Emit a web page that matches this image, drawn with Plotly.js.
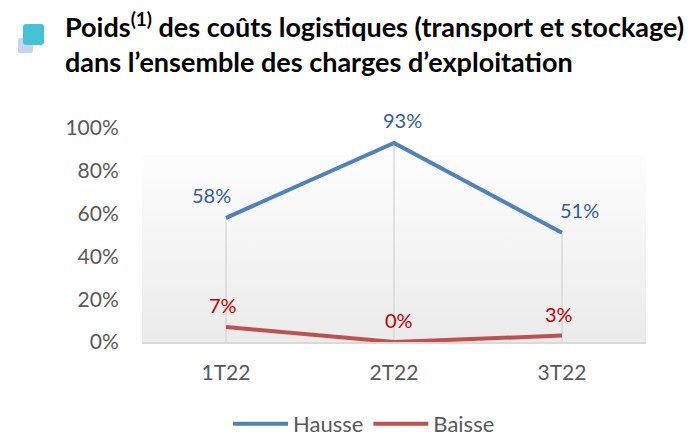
<!DOCTYPE html>
<html><head><meta charset="utf-8">
<script src="https://cdn.plot.ly/plotly-3.0.1.min.js"></script>
<style>html,body{margin:0;padding:0;background:#fff}#chart{width:698px;height:432px}</style>
</head><body><div id="chart"></div>
<script>
var categories = ["1T22", "2T22", "3T22"];
var hausse = [0.58, 0.93, 0.51];
var baisse = [0.07, 0.00, 0.03];
var seriesNames = ["Hausse", "Baisse"];
var yTicks = [0, 0.2, 0.4, 0.6, 0.8, 1.0];
var yTickLabels = ["0%", "20%", "40%", "60%", "80%", "100%"];
var titleLines = ["Poids<sup>(1)</sup> des coûts logistiques (transport et stockage)",
                  "dans l’ensemble des charges d’exploitation"];

var FONT = "Lato, 'Open Sans', sans-serif";
var pct = function(v){ return Math.round(v*100) + "%"; };
var PH = 214; // plot height in px
var py = function(pix){ return (342 - pix) / PH; };
var px = function(pix){ return (pix - 142) / 504; };

// drop lines from the highest series to the axis
var dropX = [], dropY = [];
categories.forEach(function(c, i){
  dropX.push(c, c, null);
  dropY.push(0, Math.max(hausse[i], baisse[i]), null);
});

var gradSvg = '<svg xmlns="http://www.w3.org/2000/svg" width="10" height="100" preserveAspectRatio="none">' +
  '<defs><linearGradient id="g" x1="0" y1="0" x2="0" y2="1"><stop offset="0" stop-color="#fdfdfd"/><stop offset="1" stop-color="#ebebeb"/></linearGradient></defs>' +
  '<rect width="10" height="100" fill="url(#g)"/></svg>';
var gradUri = "data:image/svg+xml;base64," + btoa(gradSvg);

var traces = [
  {x: dropX, y: dropY, mode: "lines", line: {color: "#d9d9d9", width: 1.5}, showlegend: false, hoverinfo: "skip"},
  {x: categories, y: hausse, name: seriesNames[0], mode: "lines",
   line: {color: "#4f81bd", width: 4}},
  {x: categories, y: baisse, name: seriesNames[1], mode: "lines",
   line: {color: "#c0504d", width: 4}}
];

// data labels placed from the data arrays
var hShift = [-15, 8, 17], bShift = [-3, 5, -3];
var labelAnns = [];
categories.forEach(function(c, i){
  labelAnns.push({x: c, y: hausse[i], xref: "x", yref: "y", text: pct(hausse[i]), showarrow: false,
    xanchor: "center", yanchor: "middle", xshift: hShift[i], yshift: 23,
    font: {family: FONT, size: 20, color: "#2f5f98"}});
  labelAnns.push({x: c, y: baisse[i], xref: "x", yref: "y", text: pct(baisse[i]), showarrow: false,
    xanchor: "center", yanchor: "middle", xshift: bShift[i], yshift: 22,
    font: {family: FONT, size: 20, color: "#c00000"}});
});

var layout = {
  width: 698, height: 432,
  margin: {l: 142, r: 52, t: 128, b: 90, autoexpand: false},
  paper_bgcolor: "#ffffff", plot_bgcolor: "#ffffff",
  font: {family: FONT, color: "#595959", size: 20},
  annotations: [
    {text: "<b>" + titleLines[0] + "</b>", xref: "paper", yref: "paper", x: px(63), y: py(25),
     xanchor: "left", yanchor: "middle", showarrow: false, font: {family: FONT, size: 27, color: "#000000"}},
    {text: "<b>" + titleLines[1] + "</b>", xref: "paper", yref: "paper", x: px(63), y: py(61),
     xanchor: "left", yanchor: "middle", showarrow: false, font: {family: FONT, size: 27, color: "#000000"}}
  ].concat(labelAnns),
  xaxis: {
    type: "category", range: [-0.5, 2.5], showgrid: false, zeroline: false,
    showline: true, linecolor: "#d9d9d9", linewidth: 2,
    ticks: "outside", ticklen: 11, tickcolor: "rgba(0,0,0,0)",
    tickfont: {family: FONT, size: 21, color: "#595959"}, fixedrange: true
  },
  yaxis: {
    range: [0, 1], tickvals: yTicks, ticktext: yTickLabels,
    showgrid: false, zeroline: false, showline: false,
    ticks: "outside", ticklen: 18, tickcolor: "rgba(0,0,0,0)",
    tickfont: {family: FONT, size: 21, color: "#595959"}, fixedrange: true
  },
  images: [{source: gradUri, xref: "paper", yref: "paper", x: 0, y: py(155),
            sizex: 1, sizey: py(155), xanchor: "left", yanchor: "top",
            sizing: "stretch", layer: "below"}],
  shapes: [
    {type: "path", xref: "paper", yref: "paper", xsizemode: "pixel", ysizemode: "pixel",
     xanchor: px(18), yanchor: py(53),
     path: "M2,0 H13 Q15,0 15,2 V13 Q15,15 13,15 H2 Q0,15 0,13 V2 Q0,0 2,0 Z",
     fillcolor: "#c5d6ec", line: {width: 0}, layer: "above"},
    {type: "path", xref: "paper", yref: "paper", xsizemode: "pixel", ysizemode: "pixel",
     xanchor: px(23), yanchor: py(45),
     path: "M3,0 H18 Q21,0 21,3 V18 Q21,21 18,21 H3 Q0,21 0,18 V3 Q0,0 3,0 Z",
     fillcolor: "#45c2d6", line: {width: 0}, layer: "above"}
  ],
  showlegend: true,
  legend: {orientation: "h", x: px(364), xanchor: "center", y: py(424), yanchor: "middle",
           font: {family: FONT, size: 22, color: "#595959"}, itemwidth: 55, traceorder: "normal"}
};

Plotly.newPlot("chart", traces, layout, {displayModeBar: false, staticPlot: true});
</script></body></html>
